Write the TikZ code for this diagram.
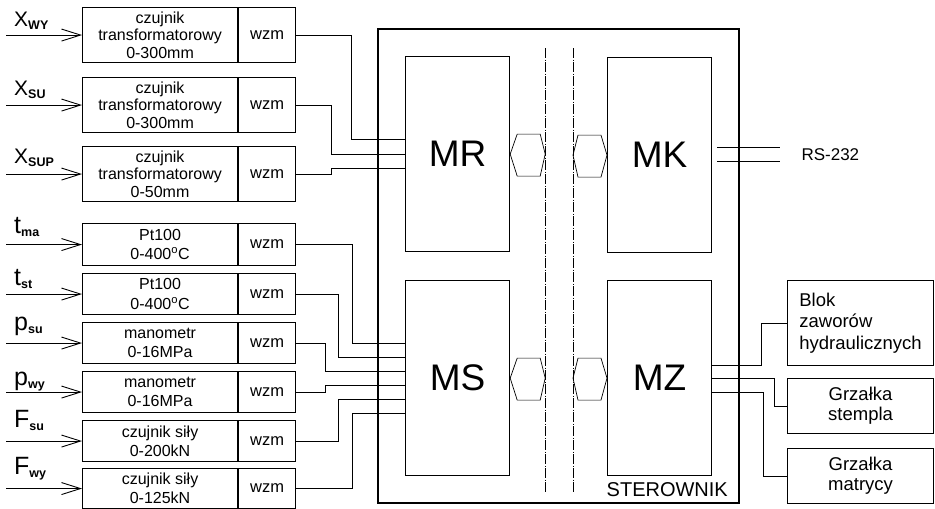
\documentclass[tikz,border=0pt]{standalone}
\usepackage{fontspec}
\setmainfont{Liberation Sans}
\usepackage{tikz}
\usetikzlibrary{arrows.meta,positioning,calc}
\newcommand{\idx}[1]{\raisebox{-3pt}{\fontsize{12.5}{12.5}\selectfont\bfseries #1}}

\begin{document}
\begin{tikzpicture}[x=1pt, y=-1pt,
  sens/.style={draw, line width=1.1pt, anchor=north west, minimum width=155pt, minimum height=#1, inner sep=1pt, align=center, font=\fontsize{16}{17.5}\selectfont},
  amp/.style={draw, line width=1.1pt, minimum width=57pt, minimum height=#1, inner sep=1pt, font=\fontsize{16.5}{17}\selectfont},
  modl/.style={draw, line width=1.2pt, anchor=north west, minimum width=104pt, minimum height=195pt, font=\fontsize{37}{37}\selectfont},
  outbox/.style={draw, line width=1.1pt, anchor=north west, minimum width=146pt, minimum height=#1, align=center, font=\fontsize{18.5}{20}\selectfont},
  sym/.style={anchor=base west, inner sep=0pt, font=\fontsize{25}{25}\selectfont},
  wire/.style={line width=1pt},
  inp/.style={line width=0.9pt, -{Straight Barb[length=19pt,width=12pt]}},
  bus/.style={line width=0.6pt, dash pattern=on 10pt off 1.5pt on 1pt off 1.5pt},
  link/.style={line width=0.7pt}
]
  \useasboundingbox (0,0) rectangle (935,509);

  % czujniki i wzmacniacze
  \node[sens=55pt] (s1) at (82,7) {czujnik\\transformatorowy\\0-300mm};
  \node[amp=55pt, right=0pt of s1] (w1) {wzm};
  \node[sens=55pt] (s2) at (82,77) {czujnik\\transformatorowy\\0-300mm};
  \node[amp=55pt, right=0pt of s2] (w2) {wzm};
  \node[sens=55pt] (s3) at (82,146) {czujnik\\transformatorowy\\0-50mm};
  \node[amp=55pt, right=0pt of s3] (w3) {wzm};
  \node[sens=42pt, font=\fontsize{16}{19.5}\selectfont] (s4) at (82,223) {Pt100\\0-400\textsuperscript{o}C};
  \node[amp=42pt, right=0pt of s4] (w4) {wzm};
  \node[sens=41pt, font=\fontsize{16}{19.5}\selectfont] (s5) at (82,273) {Pt100\\0-400\textsuperscript{o}C};
  \node[amp=41pt, right=0pt of s5] (w5) {wzm};
  \node[sens=41pt, font=\fontsize{16}{19}\selectfont] (s6) at (82,322) {manometr\\0-16MPa};
  \node[amp=41pt, right=0pt of s6] (w6) {wzm};
  \node[sens=41pt, font=\fontsize{16}{19}\selectfont] (s7) at (82,371) {manometr\\0-16MPa};
  \node[amp=41pt, right=0pt of s7] (w7) {wzm};
  \node[sens=41pt, font=\fontsize{16}{19}\selectfont] (s8) at (82,420) {czujnik siły\\0-200kN};
  \node[amp=41pt, right=0pt of s8] (w8) {wzm};
  \node[sens=40pt, font=\fontsize{16}{19}\selectfont] (s9) at (82,468) {czujnik siły\\0-125kN};
  \node[amp=40pt, right=0pt of s9] (w9) {wzm};

  % wielkosci mierzone
  \node[sym, font=\fontsize{21}{21}\selectfont] (l1) at (14,26) {X\idx{WY}};
  \node[sym, font=\fontsize{21}{21}\selectfont] (l2) at (14,95) {X\idx{SU}};
  \node[sym, font=\fontsize{21}{21}\selectfont] (l3) at (14,163) {X\idx{SUP}};
  \node[sym] (l4) at (14,233) {t\idx{ma}};
  \node[sym] (l5) at (14,285) {t\idx{st}};
  \node[sym] (l6) at (14,330) {p\idx{su}};
  \node[sym] (l7) at (14,385) {p\idx{wy}};
  \node[sym] (l8) at (14,427) {F\idx{su}};
  \node[sym] (l9) at (14,474) {F\idx{wy}};

  \coordinate (i1) at ([xshift=-76pt]s1.west); \coordinate (i2) at ([xshift=-76pt]s2.west);
  \coordinate (i3) at ([xshift=-76pt]s3.west); \coordinate (i4) at ([xshift=-76pt]s4.west);
  \coordinate (i5) at ([xshift=-76pt]s5.west); \coordinate (i6) at ([xshift=-76pt]s6.west);
  \coordinate (i7) at ([xshift=-76pt]s7.west); \coordinate (i8) at ([xshift=-76pt]s8.west);
  \coordinate (i9) at ([xshift=-76pt]s9.west);
  \draw[inp] (i1) -- (s1.west); \draw[inp] (i2) -- (s2.west); \draw[inp] (i3) -- (s3.west);
  \draw[inp] (i4) -- (s4.west); \draw[inp] (i5) -- (s5.west); \draw[inp] (i6) -- (s6.west);
  \draw[inp] (i7) -- (s7.west); \draw[inp] (i8) -- (s8.west); \draw[inp] (i9) -- (s9.west);

  % sterownik
  \node[draw, line width=1.6pt, anchor=north west, minimum width=361pt, minimum height=474pt] (ster) at (377,28) {};
  \node[anchor=base east, inner sep=0pt, font=\fontsize{20}{20}\selectfont] (sterlbl) at (728,496) {STEROWNIK};
  \node[modl] (mr) at (405,56) {MR};
  \node[modl] (ms) at (405,280) {MS};
  \node[modl] (mk) at (607,57) {MK};
  \node[modl] (mz) at (607,280) {MZ};

  \coordinate (b1t) at (545,48); \coordinate (b1b) at (545,493);
  \coordinate (b2t) at (573,48); \coordinate (b2b) at (573,493);
  \draw[bus] (b1t) -- (b1b); \draw[bus] (b2t) -- (b2b);

  \draw[link] (mr.east) -- ++(7,-20) -- ++(23,0) -- ++(5,20) -- ++(-5,22) -- ++(-23,0) -- cycle;
  \draw[link] (ms.east) -- ++(7,-20) -- ++(23,0) -- ++(5,20) -- ++(-5,22) -- ++(-23,0) -- cycle;
  \draw[link] (mk.west) -- ++(-6,-20) -- ++(-23,0) -- ++(-5,20) -- ++(5,22) -- ++(23,0) -- cycle;
  \draw[link] (mz.west) -- ++(-6,-20) -- ++(-23,0) -- ++(-5,20) -- ++(5,22) -- ++(23,0) -- cycle;

  % RS-232
  \coordinate (rs1a) at (717,147); \coordinate (rs1b) at (780,147);
  \coordinate (rs2a) at (717,161); \coordinate (rs2b) at (780,161);
  \draw[wire] (rs1a) -- (rs1b); \draw[wire] (rs2a) -- (rs2b);
  \node[anchor=west, font=\fontsize{17}{17}\selectfont] (rs) at (798,155) {RS-232};

  % elementy wykonawcze
  \node[outbox=85pt, align=left, font=\fontsize{18.5}{21.5}\selectfont] (blok) at (787,280) {Blok\\zaworów\\hydraulicznych};
  \node[outbox=55pt] (stem) at (787,378) {Grzałka\\stempla};
  \node[outbox=55pt] (matr) at (787,448) {Grzałka\\matrycy};

  \draw[wire] (w1.east) -- ++(55,0) |- ([yshift=15pt]mr.west);
  \draw[wire] (w2.east) -- ++(35,0) |- (mr.west);
  \draw[wire] (w3.east) -- ++(35,0) |- ([yshift=-14pt]mr.west);
  \draw[wire] (w4.east) -- ++(56,0) |- ([yshift=35pt]ms.west);
  \draw[wire] (w5.east) -- ++(42,0) |- ([yshift=21pt]ms.west);
  \draw[wire] (w6.east) -- ++(29,0) |- ([yshift=7pt]ms.west);
  \draw[wire] (w7.east) -- ++(29,0) |- ([yshift=-7pt]ms.west);
  \draw[wire] (w8.east) -- ++(42,0) |- ([yshift=-21pt]ms.west);
  \draw[wire] (w9.east) -- ++(56,0) |- ([yshift=-35pt]ms.west);
  \draw[wire] ([yshift=13pt]mz.east) -- ++(49,0) |- (blok.west);
  \draw[wire] (mz.east) -- ++(62,0) |- (stem.west);
  \draw[wire] ([yshift=-14pt]mz.east) -- ++(51,0) |- (matr.west);
\end{tikzpicture}
\end{document}
